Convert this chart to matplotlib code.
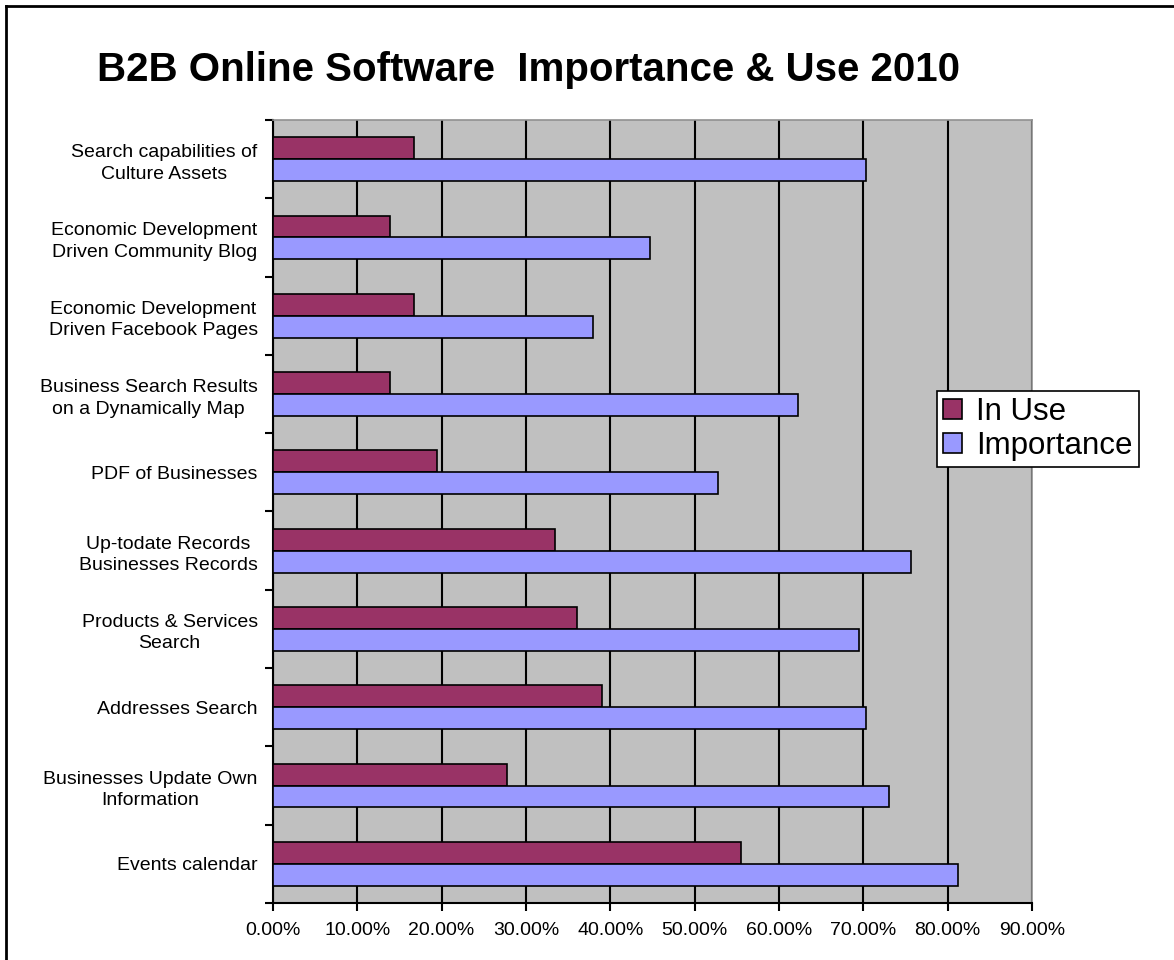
import matplotlib.pyplot as plt
import numpy as np
from matplotlib.lines import Line2D
from matplotlib.ticker import FuncFormatter

plt.rcParams['font.family'] = ['Liberation Sans', 'DejaVu Sans']

# categories listed from top to bottom
categories = [
    "Search capabilities of\nCulture Assets",
    "Economic Development\nDriven Community Blog",
    "Economic Development\nDriven Facebook Pages",
    "Business Search Results\non a Dynamically Map",
    "PDF of Businesses",
    "Up-todate Records\nBusinesses Records",
    "Products & Services\nSearch",
    "Addresses Search",
    "Businesses Update Own\nInformation",
    "Events calendar",
]
in_use = [16.7, 13.9, 16.7, 13.9, 19.4, 33.4, 36.1, 39.0, 27.8, 55.5]
importance = [70.3, 44.7, 37.9, 62.2, 52.8, 75.7, 69.5, 70.3, 73.1, 81.2]
xticks = [0, 10, 20, 30, 40, 50, 60, 70, 80, 90]

fig = plt.figure(figsize=(11.74, 9.6), dpi=100)
ax = fig.add_axes([0.2325, 0.0594, 0.8790 - 0.2325, 0.875 - 0.0594])

n = len(categories)
pos = np.arange(n)[::-1]  # first category at top
h = 0.28
ax.barh(pos + h / 2, in_use, height=h, color='#993366', edgecolor='black',
        linewidth=1.2, label='In Use', zorder=3)
ax.barh(pos - h / 2, importance, height=h, color='#9999FF', edgecolor='black',
        linewidth=1.2, label='Importance', zorder=3)

ax.set_facecolor('#C0C0C0')
ax.set_xlim(0, 90)
ax.set_ylim(-0.5, n - 0.5)
ax.set_xticks(xticks)
ax.xaxis.set_major_formatter(FuncFormatter(lambda v, p: f"{v:.2f}%"))
ax.grid(axis='x', color='black', linewidth=1.5, zorder=1)
ax.set_axisbelow(True)

# category boundaries as ticks, names in the middle
ax.set_yticks(np.arange(n + 1) - 0.5)
ax.set_yticklabels([])
ax.set_yticks(pos, minor=True)
ax.set_yticklabels(categories, minor=True, fontsize=14, multialignment='center',
                   linespacing=1.35)
ax.tick_params(axis='y', which='minor', length=0, pad=11)
ax.tick_params(axis='y', which='major', length=6, width=1.5, direction='out')
ax.tick_params(axis='x', length=6, width=1.5, direction='out', labelsize=14, pad=8)

for s in ['left', 'bottom']:
    ax.spines[s].set_color('black')
    ax.spines[s].set_linewidth(1.5)
for s in ['top', 'right']:
    ax.spines[s].set_color('#909090')
    ax.spines[s].set_linewidth(1.2)

leg = ax.legend(loc='upper left', bbox_to_anchor=(937 / 1174, 1 - 391 / 960),
                bbox_transform=fig.transFigure, fontsize=22.5, frameon=True,
                fancybox=False, edgecolor='black', handlelength=0.6,
                handleheight=0.6, handletextpad=0.45, borderpad=0.2,
                labelspacing=0.12, borderaxespad=0, framealpha=1)
leg.get_frame().set_linewidth(1.2)

fig.text(97 / 1174, 1 - 70 / 960, "B2B Online Software  Importance & Use 2010",
         fontsize=29, fontweight='bold', ha='left', va='center')

# outer frame lines (left and top)
fig.add_artist(Line2D([6 / 1174, 6 / 1174], [0, 1 - 6 / 960], color='black', linewidth=2))
fig.add_artist(Line2D([6 / 1174, 1], [1 - 6 / 960, 1 - 6 / 960], color='black', linewidth=2))

fig.savefig('out.png', dpi=100)
